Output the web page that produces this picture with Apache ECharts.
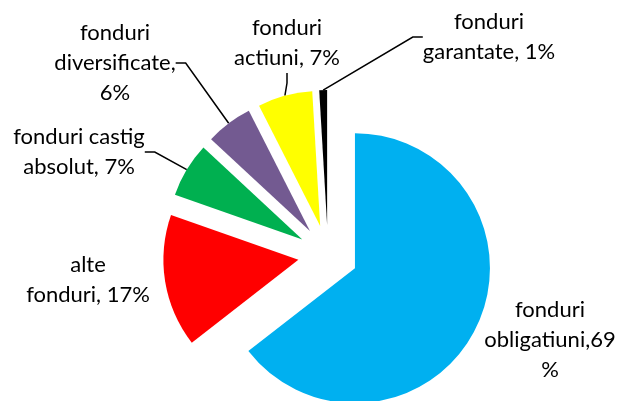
<!DOCTYPE html>
<html>
<head>
<meta charset="utf-8">
<script src="https://cdn.jsdelivr.net/npm/echarts@6/dist/echarts.min.js"></script>
<style>
html,body{margin:0;padding:0;background:#fff;}
.box{width:621px;height:401px;}
</style>
</head>
<body>
<div class="box"></div>
<script>
// categories and values, in Excel order (clockwise from 12 o'clock)
const categories = ['fonduri obligatiuni', 'alte fonduri', 'fonduri castig absolut', 'fonduri diversificate', 'fonduri actiuni', 'fonduri garantate'];
const values = [69, 17, 7, 6, 7, 1];
const labelTexts = ['fonduri\nobligatiuni,69\n%', 'alte\nfonduri, 17%', 'fonduri castig\nabsolut, 7%', 'fonduri\ndiversificate,\n6%', 'fonduri\nactiuni, 7%', 'fonduri\ngarantate, 1%'];
const colors = ['#00B0F0', '#FF0000', '#00B050', '#735A91', '#FFFF00', '#000000'];
const showLines = [false, false, true, true, true, true];
// label centres (x, y) in the picture
const labelPos = [[550, 340], [88, 280], [79, 152], [115, 63], [287, 43], [489, 37]];

const cx = 328, cy = 255, explode = 30;
const total = values.reduce(function(a, b){ return a + b; }, 0);

// one pie per slice so every slice can be pulled out along its own middle angle
let series = [];
let acc = 0;
values.forEach(function(v, i){
    const mid = (acc + v / 2) / total * Math.PI * 2;
    acc += v;
    series.push({
        type:"pie",
        center:[cx + explode * Math.sin(mid), cy - explode * Math.cos(mid)],
        radius:135,
        startAngle:90,
        clockwise:true,
        avoidLabelOverlap:false,
        silent:true,
        emphasis:{disabled:true},
        data:categories.map(function(name, j){
            return {
                name:name,
                value:values[j],
                itemStyle:{color:j === i ? colors[j] : "rgba(0,0,0,0)"},
                label:{show:j === i},
                labelLine:{show:j === i && showLines[j]}
            };
        }),
        label:{
            position:"outside",
            color:"#000",
            fontSize:22,
            lineHeight:30,
            align:"center",
            formatter:function(p){
                return labelTexts[p.dataIndex];
            }
        },
        labelLine:{
            length:15,
            length2:10,
            lineStyle:{color:"#000", width:1.5}
        },
        labelLayout:function(p){
            const pos = labelPos[p.dataIndex];
            return {
                x:pos[0],
                y:pos[1],
                align:"center",
                verticalAlign:"middle"
            };
        }
    });
});

let mycharts = echarts.init(document.querySelector(".box"));
mycharts.setOption({
    backgroundColor:"#ffffff",
    animation:false,
    textStyle:{
        fontFamily:"Lato, 'Open Sans', sans-serif"
    },
    series:series
});
</script>
</body>
</html>
